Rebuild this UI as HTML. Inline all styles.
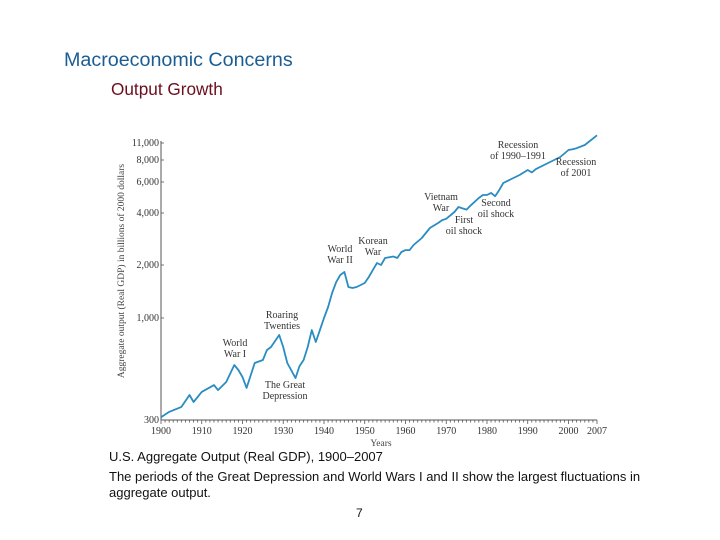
<!DOCTYPE html>
<html><head><meta charset="utf-8"><style>
body{margin:0;background:#fff;}
#wrap{position:relative;width:720px;height:540px;overflow:hidden;background:#fff;font-family:"Liberation Sans",sans-serif;}
.t{position:absolute;white-space:nowrap;}
</style></head><body>
<div id="wrap">
<div class="t" style="left:64px;top:49px;font-size:19.7px;color:#1b5d93;">Macroeconomic Concerns</div>
<div class="t" style="left:111px;top:79px;font-size:17.2px;color:#6b0f1f;">Output Growth</div>
<svg id="chart" width="720" height="540" style="position:absolute;left:0;top:0;" font-family="Liberation Serif, serif"></svg>
<div class="t" style="left:109px;top:449px;font-size:13px;color:#111;">U.S. Aggregate Output (Real GDP), 1900–2007</div>
<div class="t" style="left:109px;top:469px;font-size:13px;color:#111;line-height:16px;white-space:normal;width:535px;">The periods of the Great Depression and World Wars I and II show the largest fluctuations in aggregate output.</div>
<div class="t" style="left:356px;top:506px;font-size:12px;color:#111;">7</div>
</div>
<script>
const years=[1900,1902,1905,1907,1908,1910,1913,1914,1916,1918,1919,1920,1921,1923,1925,1926,1927,1929,1930,1931,1933,1934,1935,1936,1937,1938,1939,1940,1941,1942,1943,1944,1945,1946,1947,1948,1949,1950,1951,1952,1953,1954,1955,1957,1958,1959,1960,1961,1962,1964,1966,1968,1969,1970,1972,1973,1974,1975,1976,1978,1979,1980,1981,1982,1983,1984,1986,1988,1990,1991,1992,1995,1998,2000,2001,2002,2004,2007];
const gdp=[310,330,350,403,371,418,453,427,470,574,541,498,438,588,609,685,710,818,710,588,492,567,609,710,867,753,867,1000,1155,1387,1600,1754,1824,1500,1480,1500,1540,1580,1710,1875,2055,2000,2197,2240,2197,2379,2440,2440,2612,2865,3275,3500,3640,3700,4055,4325,4250,4180,4420,4865,5060,5060,5200,4980,5400,5920,6240,6575,7020,6800,7100,7690,8460,9640,9800,9980,10590,12700];
const yTickVals=[300,1000,2000,4000,6000,8000,11000];
const yTickLabels=["300","1,000","2,000","4,000","6,000","8,000","11,000"];
const xTickVals=[1900,1910,1920,1930,1940,1950,1960,1970,1980,1990,2000,2007];
const annotations=[
 ["World","War I",235,346],["Roaring","Twenties",282,318],["The Great","Depression",285,388],
 ["World","War II",340,252],["Korean","War",373,244],["Vietnam","War",441,200],
 ["First","oil shock",464,223],["Second","oil shock",496,206],["Recession","of 1990–1991",518,148],["Recession","of 2001",576,165]];
const yPx=[420,318,265,213,182,160,143];
const X0=161,X1=597;
function xs(yr){return X0+(yr-1900)*(X1-X0)/107;}
function ys(v){const L=Math.log10(v);let i=0;
 for(i=0;i<yTickVals.length-2;i++){if(L<=Math.log10(yTickVals[i+1]))break;}
 const a=Math.log10(yTickVals[i]),b=Math.log10(yTickVals[i+1]);
 return yPx[i]+(L-a)/(b-a)*(yPx[i+1]-yPx[i]);}
const NS="http://www.w3.org/2000/svg",svg=document.getElementById('chart');
function el(t,at,txt){const e=document.createElementNS(NS,t);for(const k in at)e.setAttribute(k,at[k]);if(txt!=null)e.textContent=txt;svg.appendChild(e);return e;}
let e;
e=el('line',{x1:X0,y1:420,x2:X1,y2:420,stroke:'#555','stroke-width':1});


e=el('line',{x1:X0,y1:420,x2:X0,y2:141,stroke:'#555','stroke-width':1});


for(let yr=1900;yr<=2007;yr++){
 const major=xTickVals.includes(yr);
 e=el('line',{x1:xs(yr),y1:420,x2:xs(yr),y2:major?424:422.5,stroke:'#555','stroke-width':0.8});
 
 
}
xTickVals.forEach(v=>{
 e=el('text',{x:xs(v),y:434,'font-size':10,fill:'#333','text-anchor':'middle'},String(v));
 
 
});
yTickVals.forEach((v,i)=>{
 e=el('line',{x1:X0,y1:ys(v),x2:X0+3,y2:ys(v),stroke:'#555','stroke-width':0.8});
 
 
 e=el('text',{x:X0-2,y:ys(v)+3,'font-size':10,fill:'#333','text-anchor':'end'},yTickLabels[i]);
 
 
});
e=el('text',{x:381,y:446,'font-size':9.5,fill:'#444','text-anchor':'middle'},'Years');


e=el('text',{x:0,y:0,'font-size':9.5,fill:'#444','text-anchor':'middle',transform:'translate(124,271) rotate(-90)'},'Aggregate output (Real GDP) in billions of 2000 dollars');


let d=years.map((yr,i)=>(i?'L':'M')+xs(yr).toFixed(1)+','+ys(gdp[i]).toFixed(1)).join(' ');
e=el('path',{d:d,fill:'none',stroke:'#2a8cc2','stroke-width':1.8,'stroke-linejoin':'round'});


annotations.forEach(a=>{
 e=el('text',{x:a[2],y:a[3],'font-size':10,fill:'#333','text-anchor':'middle'},a[0]);
 
 
 e=el('text',{x:a[2],y:a[3]+11,'font-size':10,fill:'#333','text-anchor':'middle'},a[1]);
 
 
});
</script>
</body></html>
